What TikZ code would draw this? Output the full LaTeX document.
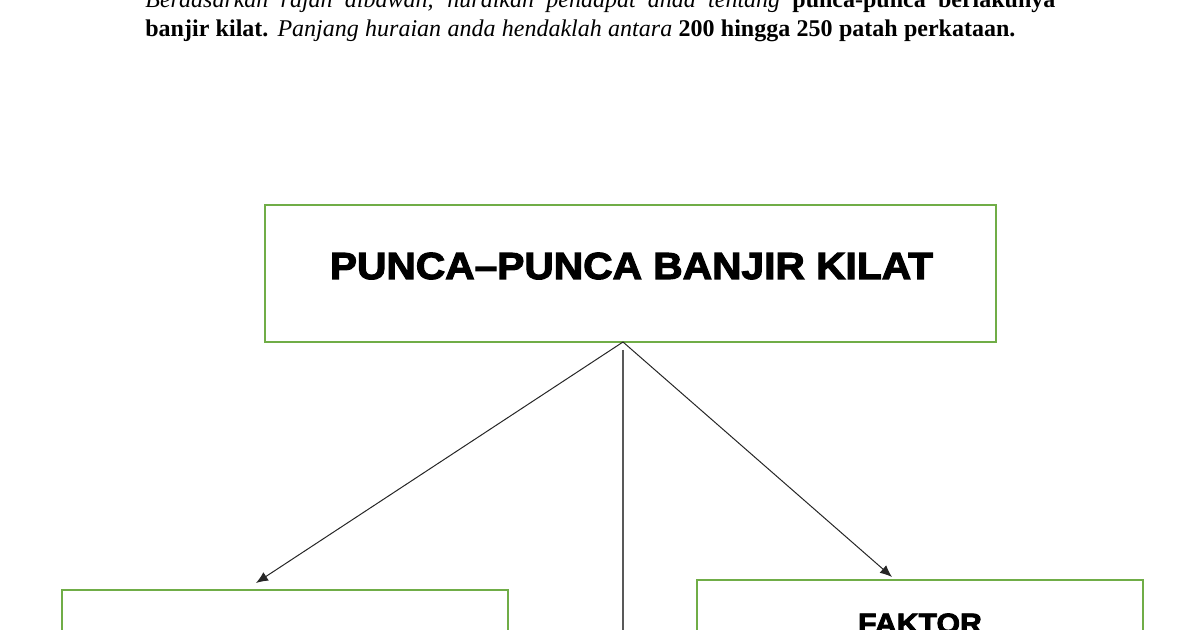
\documentclass[tikz,border=0pt]{standalone}
\usepackage{fontspec}
\setmainfont{Liberation Serif}
\newfontfamily\titlefont[FakeStretch=1.08,FakeBold=3,BoldFeatures={FakeBold=3}]{Liberation Sans}
\usetikzlibrary{arrows.meta}
\definecolor{boxgreen}{RGB}{112,173,71}
\tikzset{
  gbox/.style={draw=boxgreen, line width=1pt, fill=white, inner sep=0pt},
  ttl/.style={font=\titlefont\bfseries\fontsize{18.85}{22}\selectfont, inner sep=0pt},
  sub/.style={font=\titlefont\bfseries\fontsize{14}{16}\selectfont, inner sep=0pt},
  para/.style={font=\fontsize{12}{14}\selectfont, inner sep=0pt, anchor=base west},
  arr/.style={draw=black!85, line width=0.5pt, -{Latex[length=6pt,width=5pt]}},
  stem/.style={draw=black!65, line width=0.8pt}
}
\begin{document}
\begin{tikzpicture}[x=0.5pt,y=-0.5pt]
\useasboundingbox (0,0) rectangle (1200,630);
\clip (0,0) rectangle (1200,630);
% top paragraph
\node[para] (line1) at (145,8) {\hbox to 455pt{\itshape Berdasarkan rajah dibawah, huraikan pendapat anda tentang \bfseries\upshape punca-punca berlakunya}};
\node[para] (line2) at (145,37) {\hbox to 435pt{\textbf{banjir kilat.} \textit{Panjang huraian anda hendaklah antara} \textbf{200 hingga 250 patah perkataan.}}};
% boxes
\node[gbox, minimum width=365.5pt, minimum height=68.5pt] (title) at (630.5,273.5) {};
\node[ttl, anchor=base] (titletext) at (631.5,279) {PUNCA–PUNCA BANJIR KILAT};
\node[gbox, minimum width=223pt, minimum height=68.5pt] (left) at (285,658.5) {};
\node[gbox, minimum width=223pt, minimum height=68.5pt] (right) at (920,648.5) {};
\node[sub, anchor=base] (righttext) at (920,633) {FAKTOR};
% connectors
\coordinate (apex) at (623,342);
\coordinate (ltip) at (256,583);
\coordinate (rtip) at (892,577);
\coordinate (stemtop) at (623,350);
\coordinate (stembot) at (623,640);
\draw[arr] (apex) -- (ltip);
\draw[arr] (apex) -- (rtip);
\draw[stem] (stemtop) -- (stembot);
\end{tikzpicture}
\end{document}
